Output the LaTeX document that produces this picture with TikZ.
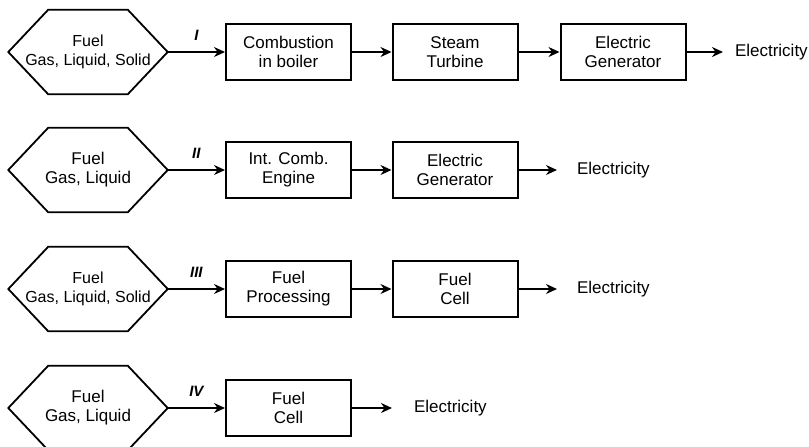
\documentclass[tikz,border=0pt]{standalone}
\usepackage{fontspec}
\setmainfont{Liberation Sans}
\usetikzlibrary{arrows.meta, positioning, calc}

\tikzset{
  fuel/.style={align=center, minimum width=79pt, minimum height=41.5pt, inner sep=0pt, font=\fontsize{8}{9.5}\selectfont},
  unit/.style={draw, line width=1pt, align=center, minimum width=62.5pt, minimum height=28pt, inner sep=0pt, font=\fontsize{8.5}{9.5}\selectfont},
  elec/.style={anchor=west, inner sep=0pt, outer xsep=10pt, font=\fontsize{8.5}{10}\selectfont},
  route/.style={font=\fontsize{7.5}{9}\selectfont\bfseries\itshape, above=2pt}
}

\begin{document}
\begin{tikzpicture}[>={Stealth[length=5.5pt, width=5pt, inset=1.8pt]}, line width=0.7pt, x=0.5pt, y=-0.5pt]
    \useasboundingbox (0,0) rectangle (809,446);

    % Fuels
    \node [fuel] (f1) at (88,52) {Fuel\\Gas, Liquid, Solid};
    \node [fuel, font=\fontsize{8.5}{9.5}\selectfont] (f2) at (88,170) {Fuel\\Gas, Liquid};
    \node [fuel] (f3) at (88,289) {Fuel\\Gas, Liquid, Solid};
    \node [fuel, font=\fontsize{8.5}{9.5}\selectfont] (f4) at (88,408) {Fuel\\Gas, Liquid};
    \foreach \r in {1,...,4}
        \draw [line width=0.9pt] (f\r.west) -- ($(f\r.north west)!.25!(f\r.north east)$) -- ($(f\r.north west)!.75!(f\r.north east)$) -- (f\r.east) -- ($(f\r.south west)!.75!(f\r.south east)$) -- ($(f\r.south west)!.25!(f\r.south east)$) -- cycle;

    % I: boiler and steam turbine
    \node [unit] (b11) at (288.5,52) {Combustion\\in boiler};
    \node [unit] (b12) at (455,52) {Steam\\Turbine};
    \node [unit] (b13) at (623,52) {Electric\\Generator};
    \node [elec, outer xsep=6pt] (e1) at (723,52) {Electricity};
    \draw [->] (f1.east) -- (b11.west) node[midway, route] {I};
    \draw [->] (b11) -- (b12);
    \draw [->] (b12) -- (b13);
    \draw [->, line width=1.1pt] (b13) -- (e1);

    % II: engine
    \node [unit] (b21) at (288.5,170) {Int. Comb.\\Engine};
    \node [unit] (b22) at (455,170) {Electric\\Generator};
    \node [elec] (e2) at (557,170) {Electricity};
    \draw [->] (f2.east) -- (b21.west) node[midway, route] {II};
    \draw [->] (b21) -- (b22);
    \draw [->] (b22) -- (e2);

    % III: fuel processing and fuel cell
    \node [unit] (b31) at (288.5,289) {Fuel\\Processing};
    \node [unit] (b32) at (455,289) {Fuel\\Cell};
    \node [elec] (e3) at (557,289) {Electricity};
    \draw [->] (f3.east) -- (b31.west) node[midway, route] {III};
    \draw [->] (b31) -- (b32);
    \draw [->] (b32) -- (e3);

    % IV: fuel cell only
    \node [unit] (b41) at (288.5,408) {Fuel\\Cell};
    \node [elec, outer xsep=11pt] (e4) at (392,408) {Electricity};
    \draw [->] (f4.east) -- (b41.west) node[midway, route] {IV};
    \draw [->] (b41) -- (e4);
\end{tikzpicture}
\end{document}
